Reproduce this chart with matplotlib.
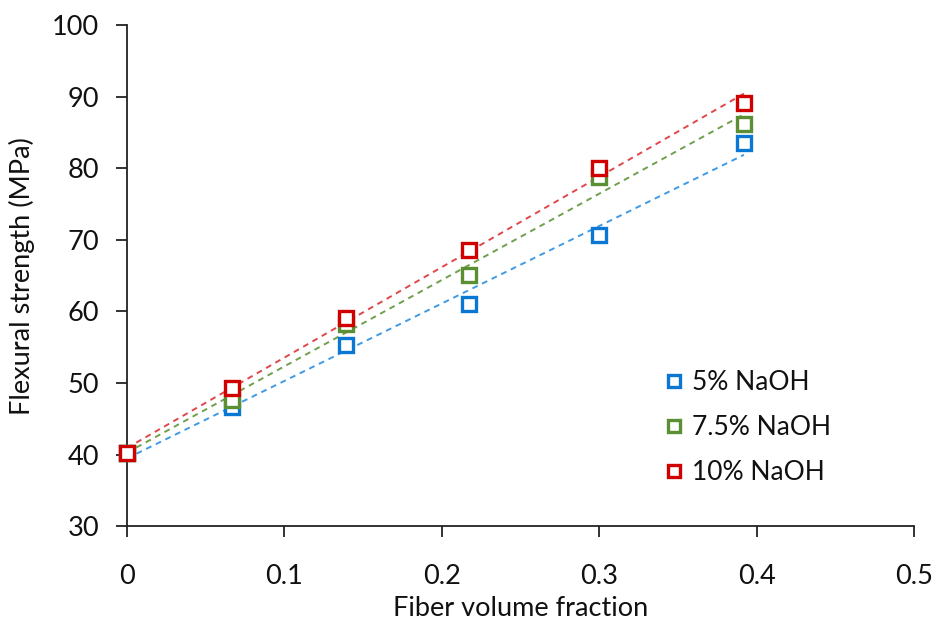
import numpy as np
import matplotlib
matplotlib.use("Agg")
import matplotlib.pyplot as plt

plt.rcParams['font.family'] = ['Lato', 'DejaVu Sans']

fiber_fraction = [0.0, 0.067, 0.139, 0.217, 0.300, 0.392]
naoh_5 = [40.2, 46.6, 55.3, 61.1, 70.7, 83.6]
naoh_7_5 = [40.2, 47.6, 58.2, 65.1, 78.8, 86.2]
naoh_10 = [40.2, 49.3, 59.1, 68.6, 80.1, 89.1]
series_labels = ['5% NaOH', '7.5% NaOH', '10% NaOH']

marker_colors = ['#0a78d2', '#5a8f34', '#d00000']
line_colors = ['#3e9ae6', '#6f9f4c', '#e0474a']

fig = plt.figure(figsize=(9.35, 6.28), dpi=100)
ax = fig.add_axes([0.1358, 0.162, 0.8417, 0.798])

x = np.array(fiber_fraction)
for ys, lab, mc, lc in zip([naoh_5, naoh_7_5, naoh_10], series_labels, marker_colors, line_colors):
    ys = np.array(ys)
    m, b = np.polyfit(x, ys, 1)
    xx = np.array([x.min(), x.max()])
    ax.plot(xx, m * xx + b, linestyle=(0, (3, 2.5)), color=lc, linewidth=1.4, zorder=2)
    ax.plot(x, ys, linestyle='none', marker='s', markersize=10, markerfacecolor='white',
            markeredgecolor=mc, markeredgewidth=2.4, label=lab, zorder=3, clip_on=False)

ax.set_xlim(0, 0.5)
ax.set_ylim(30, 100)
ax.set_xticks([0, 0.1, 0.2, 0.3, 0.4, 0.5])
ax.set_xticklabels(['0', '0.1', '0.2', '0.3', '0.4', '0.5'])
ax.set_yticks(range(30, 101, 10))
for s in ['top', 'right']:
    ax.spines[s].set_visible(False)
for s in ['left', 'bottom']:
    ax.spines[s].set_linewidth(1.3)
    ax.spines[s].set_color('#222222')
ax.tick_params(axis='both', direction='out', length=8, width=1.3, color='#222222',
               labelsize=19.5, labelcolor='#111111')
ax.tick_params(axis='y', pad=12)
ax.tick_params(axis='x', pad=19)
ax.set_xlabel('Fiber volume fraction', fontsize=19.5, labelpad=5, color='#111111')
ax.set_ylabel('Flexural strength (MPa)', fontsize=19.5, labelpad=12, color='#111111')

ax.legend(loc='lower right', bbox_to_anchor=(0.925, 0.035), frameon=False, fontsize=19,
          handletextpad=0.15, markerscale=0.8, labelspacing=0.75, handlelength=1.1,
          labelcolor='#111111')

fig.savefig('out.png', dpi=100)
